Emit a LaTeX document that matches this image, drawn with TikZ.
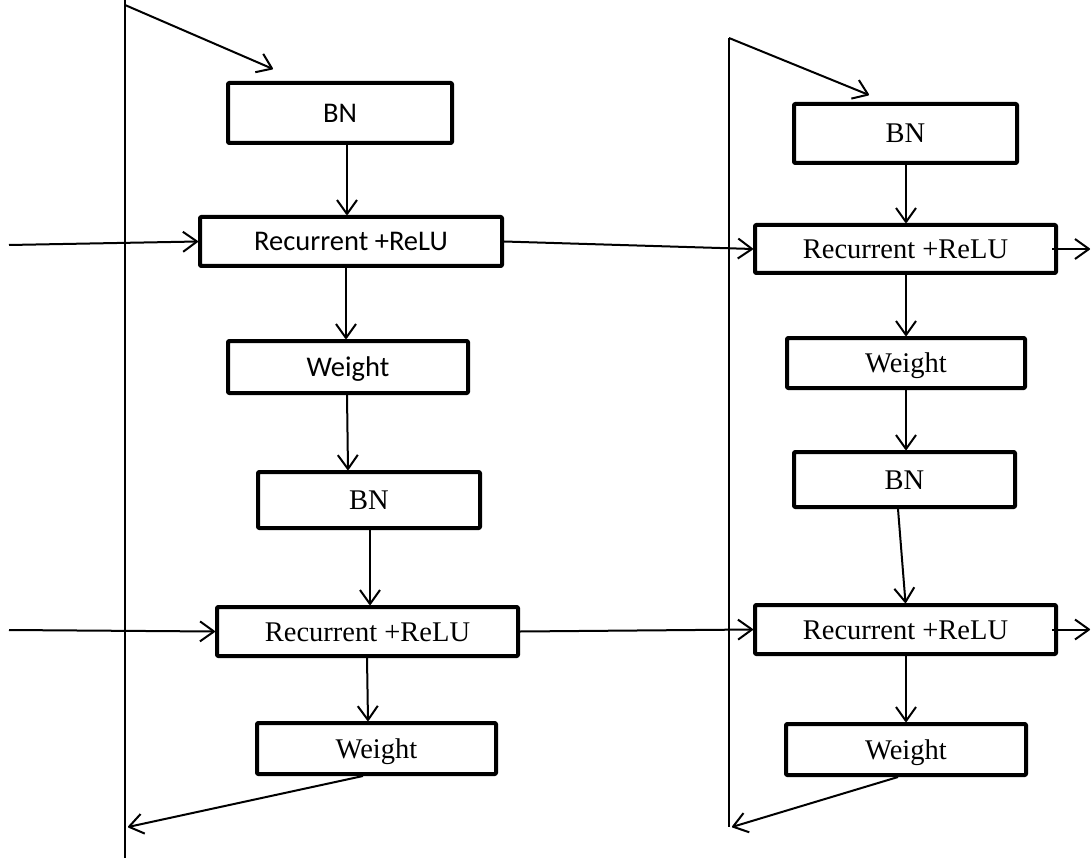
\documentclass[tikz,border=0pt]{standalone}
\usepackage{fontspec}
\setmainfont{Liberation Serif}
\newfontfamily\calfont{Carlito}
\usetikzlibrary{arrows.meta,calc}

\begin{document}
\begin{tikzpicture}[x=1pt,y=-1pt,
  box/.style={draw, line width=4pt, rounded corners=1pt, line join=round,
    inner sep=0pt, anchor=center, text height=19pt, text depth=0pt,
    font=\fontsize{28.5pt}{34pt}\selectfont},
  sansbox/.style={box, font=\fontsize{28.5pt}{34pt}\selectfont\calfont},
  link/.style={line width=2pt, line join=round,
    -{Straight Barb[length=14pt,width=20pt,line join=round]}},
  rail/.style={line width=2pt},
]
\useasboundingbox (0,0) rectangle (1091,858);

% left column
\node[sansbox, minimum width=224pt, minimum height=60pt] (L1) at (340,113) {BN};
\node[sansbox, minimum width=302pt, minimum height=49pt] (L2) at (351,241.5) {Recurrent +ReLU};
\node[sansbox, minimum width=240pt, minimum height=52pt] (L3) at (348,367) {Weight};
\node[box, minimum width=222pt, minimum height=56pt] (L4) at (369,500) {BN};
\node[box, minimum width=301pt, minimum height=49pt] (L5) at (367.5,631.5) {Recurrent +ReLU};
\node[box, minimum width=239pt, minimum height=51pt] (L6) at (376.5,748.5) {Weight};

% right column
\node[box, minimum width=223pt, minimum height=59pt] (R1) at (905.5,133.5) {BN};
\node[box, minimum width=301pt, minimum height=48pt] (R2) at (905.5,249) {Recurrent +ReLU};
\node[box, minimum width=238pt, minimum height=50pt] (R3) at (906,363) {Weight};
\node[box, minimum width=221pt, minimum height=55pt] (R4) at (904.5,479.5) {BN};
\node[box, minimum width=301pt, minimum height=49pt] (R5) at (905.5,629.5) {Recurrent +ReLU};
\node[box, minimum width=240pt, minimum height=51pt] (R6) at (906,749.5) {Weight};

% rails and free ends
\coordinate (lrailtop) at (125,0);
\coordinate (lrailbot) at (125,858);
\coordinate (lloop) at (125,5);
\coordinate (lback) at (128,827);
\coordinate (in1) at (9,245);
\coordinate (in2) at (9,630);
\coordinate (rrailtop) at (729,38);
\coordinate (rrailbot) at (729,827);
\coordinate (rback) at (732,827);
\coordinate (out1) at (1090,249);
\coordinate (out2) at (1090,629.5);

\draw[rail] (lrailtop) -- (lrailbot);
\draw[rail, line width=1.5pt] (rrailtop) -- (rrailbot);

% left column connectors
\draw[link] (lloop) -- ($(L1.north west)+(47,-12)$);
\draw[link] ($(L1.south)+(7,0)$) -- ($(L2.north)+(-4,0)$);
\draw[link] (in1) -- (L2.west);
\draw[link] (L2.east) -- (R2.west);
\draw[link] ($(L2.south)+(-5,0)$) -- ($(L3.north)+(-2,0)$);
\draw[link] ($(L3.south)+(-1,0)$) -- ($(L4.north)+(-21,0)$);
\draw[link] ($(L4.south)+(1,0)$) -- ($(L5.north)+(2.5,0)$);
\draw[link] (in2) -- (L5.west);
\draw[link] (L5.east) -- (R5.west);
\draw[link] ($(L5.south)+(-0.5,0)$) -- ($(L6.north)+(-8.5,0)$);
\draw[link] ($(L6.south)+(-13.5,0)$) -- (lback);

% right column connectors
\draw[link] (rrailtop) -- ($(R1.north west)+(77,-7)$);
\draw[link] ($(R1.south)+(0.5,0)$) -- ($(R2.north)+(0.5,0)$);
\draw[link] ($(R2.east)+(-6,0)$) -- (out1);
\draw[link] ($(R2.south)+(0.5,0)$) -- (R3.north);
\draw[link] (R3.south) -- ($(R4.north)+(1.5,0)$);
\draw[link] ($(R4.south)+(-6.5,0)$) -- (R5.north);
\draw[link] ($(R5.east)+(-6,0)$) -- (out2);
\draw[link] ($(R5.south)+(0.5,0)$) -- (R6.north);
\draw[link] ($(R6.south)+(-8,0)$) -- (rback);
\end{tikzpicture}
\end{document}
